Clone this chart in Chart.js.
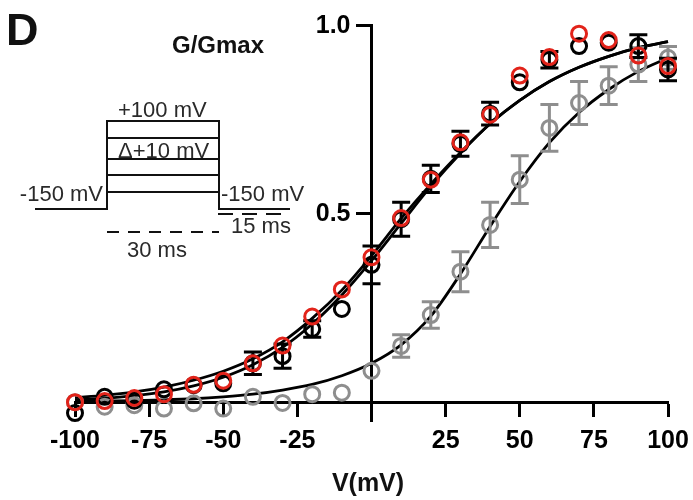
<!DOCTYPE html>
<html><head><meta charset="utf-8">
<script src="https://cdn.jsdelivr.net/npm/chart.js@4.4.1/dist/chart.umd.min.js"></script>
<style>html,body{margin:0;padding:0;background:#fff;}#wrap{width:693px;height:500px;}</style>
</head><body><div id="wrap"><canvas id="c" width="693" height="500"></canvas></div>
<script>
// ---- data ----
const voltages = [-100,-90,-80,-70,-60,-50,-40,-30,-20,-10,0,10,20,30,40,50,60,70,80,90,100];
const blackG   = [-0.029,0.014,0.004,0.034,0.045,0.05,0.103,0.122,0.194,0.247,0.364,0.485,0.592,0.685,0.765,0.848,0.908,0.944,0.953,0.944,0.882];
const blackErr = [0,0,0,0,0,0,0.03,0.032,0.022,0,0.05,0.045,0.036,0.033,0.03,0,0.022,0,0,0.03,0.03];
const redG     = [0.0,0.003,0.011,0.021,0.046,0.057,0.103,0.15,0.227,0.299,0.384,0.488,0.59,0.689,0.762,0.866,0.915,0.977,0.96,0.919,0.891];
const grayG    = [0.0,-0.012,-0.008,-0.017,-0.003,-0.017,0.014,-0.002,0.021,0.025,0.083,0.149,0.231,0.346,0.47,0.59,0.727,0.793,0.839,0.895,0.913];
const grayErr  = [0,0,0,0,0,0,0,0,0,0,0,0.03,0.035,0.053,0.06,0.063,0.062,0.057,0.05,0.045,0.03];
const fitBlack = [0.006,0.01,0.017,0.027,0.043,0.066,0.099,0.145,0.207,0.284,0.375,0.474,0.572,0.66,0.738,0.80,0.85,0.888,0.917,0.94,0.956];
const fitRed   = [0.012,0.018,0.027,0.04,0.058,0.082,0.115,0.16,0.222,0.297,0.388,0.487,0.578,0.662,0.738,0.80,0.85,0.888,0.917,0.94,0.956];
const fitGray  = [0.002,0.003,0.004,0.006,0.009,0.014,0.021,0.032,0.047,0.07,0.103,0.152,0.228,0.34,0.466,0.585,0.688,0.768,0.829,0.877,0.913];
const xTicks = [-100,-75,-50,-25,0,25,50,75,100];
const xTickLabels = ['-100','-75','-50','-25','','25','50','75','100'];
const yTicks = [0.5,1.0];
const yTickLabels = ['0.5','1.0'];

const FONT = '"Liberation Sans", Arial, Helvetica, sans-serif';
const pts = arr => voltages.map((v,i)=>({x:v,y:arr[i]}));

const errorBars = {
  id:'errorBars',
  beforeDatasetDraw(chart, args){
    const ds = chart.data.datasets[args.index];
    if(!ds.errors) return;
    const xs = chart.scales.x, ys = chart.scales.y, ctx = chart.ctx;
    ctx.save();
    ctx.strokeStyle = ds.borderColor; ctx.lineWidth = 3; ctx.lineCap='butt';
    ds.data.forEach((p,i)=>{
      const e = ds.errors[i]; if(!e) return;
      const x = xs.getPixelForValue(p.x);
      const yt = ys.getPixelForValue(p.y+e), yb = ys.getPixelForValue(p.y-e);
      ctx.beginPath();
      ctx.moveTo(x,yt); ctx.lineTo(x,yb);
      ctx.moveTo(x-9,yt); ctx.lineTo(x+9,yt);
      ctx.moveTo(x-9,yb); ctx.lineTo(x+9,yb);
      ctx.stroke();
    });
    ctx.restore();
  }
};

const annotations = {
  id:'annotations',
  afterDraw(chart){
    const ctx = chart.ctx, xs = chart.scales.x, ys = chart.scales.y;
    ctx.save();
    const ax = xs.getPixelForValue(0), ay = ys.getPixelForValue(0);
    ctx.fillStyle = '#000';
    ctx.font = 'bold 25px '+FONT;
    // y tick labels, left of the centred axis
    ctx.textAlign = 'right'; ctx.textBaseline = 'middle';
    yTicks.forEach((v,i) => ctx.fillText(yTickLabels[i], ax - 21, ys.getPixelForValue(v) + 1));
    // x tick labels, under the axis crossing at 0
    ctx.textAlign = 'center'; ctx.textBaseline = 'alphabetic';
    xTicks.forEach((v,i) => ctx.fillText(xTickLabels[i], xs.getPixelForValue(v), ay + 46));
    ctx.fillStyle = '#111';
    ctx.textAlign = 'left';
    ctx.font = 'bold 45px '+FONT;
    ctx.fillText('D', 6, 45);
    ctx.font = 'bold 24px '+FONT;
    ctx.fillText('G/Gmax', 172, 53);
    ctx.textAlign = 'center';
    ctx.font = 'bold 25px '+FONT;
    ctx.fillText('V(mV)', 368, 491);
    // stimulation protocol inset
    ctx.strokeStyle = '#111'; ctx.lineWidth = 2;
    ctx.beginPath();
    ctx.moveTo(35,209); ctx.lineTo(107,209); ctx.lineTo(107,121); ctx.lineTo(219,121); ctx.lineTo(219,209); ctx.lineTo(290,209);
    [138,159,175,192].forEach(y=>{ctx.moveTo(107,y); ctx.lineTo(219,y);});
    ctx.stroke();
    ctx.setLineDash([12,9]);
    ctx.beginPath(); ctx.moveTo(107,232); ctx.lineTo(219,232); ctx.stroke();
    ctx.setLineDash([15,9]);
    ctx.beginPath(); ctx.moveTo(218,214); ctx.lineTo(284,214); ctx.stroke();
    ctx.setLineDash([]);
    ctx.fillStyle = '#2a2a2a';
    ctx.font = '22px '+FONT;
    ctx.textAlign = 'right';
    ctx.fillText('-150 mV', 103, 201);
    ctx.textAlign = 'left';
    ctx.fillText('-150 mV', 221, 201);
    ctx.fillText('+100 mV', 118, 117);
    ctx.fillText('\u0394+10 mV', 118, 158);
    ctx.fillText('30 ms', 127, 257);
    ctx.fillText('15 ms', 231, 233);
    ctx.restore();
  }
};

const pointDs = (label, arr, color, errs, order) => ({
  label, data: pts(arr), errors: errs, showLine:false, order,
  borderColor: color, backgroundColor:'rgba(0,0,0,0)',
  pointStyle:'circle', pointRadius:7.5, pointBorderWidth:3, pointHoverRadius:7.5, clip:false
});
const fitDs = (label, arr, order) => ({
  label, data: pts(arr), showLine:true, order, borderColor:'#000', borderWidth:2.8,
  pointRadius:0, cubicInterpolationMode:'monotone', fill:false, clip:false
});

new Chart(document.getElementById('c'), {
  type:'scatter',
  data:{ datasets:[
    pointDs('WT + red', redG, '#e2231a', null, 0),
    pointDs('WT', blackG, '#000000', blackErr, 1),
    pointDs('Mutant', grayG, '#8e8e8e', grayErr, 2),
    fitDs('fit red', fitRed, 3),
    fitDs('fit black', fitBlack, 4),
    fitDs('fit gray', fitGray, 5)
  ]},
  options:{
    responsive:false, devicePixelRatio:1, animation:false,
    layout:{padding:{left:75,right:25,top:25,bottom:79}},
    plugins:{legend:{display:false}, tooltip:{enabled:false}},
    scales:{
      x:{ type:'linear', min:-100, max:100, position:{y:0},
        afterBuildTicks: s => { s.ticks = xTicks.map(v=>({value:v})); },
        ticks:{ callback: () => '', padding:0, maxRotation:0, autoSkip:false },
        grid:{ drawOnChartArea:false, drawTicks:true, tickLength:13, tickWidth:3, tickColor:'#000' },
        border:{ display:true, width:3, color:'#000' }
      },
      y:{ type:'linear', min:-0.05, max:1.0, position:{x:0},
        afterBuildTicks: s => { s.ticks = yTicks.map(v=>({value:v})); },
        ticks:{ callback: () => '', padding:0 },
        grid:{ drawOnChartArea:false, drawTicks:true, tickLength:14, tickWidth:3, tickColor:'#000' },
        border:{ display:true, width:3, color:'#000' }
      }
    }
  },
  plugins:[errorBars, annotations]
});
</script></body></html>
